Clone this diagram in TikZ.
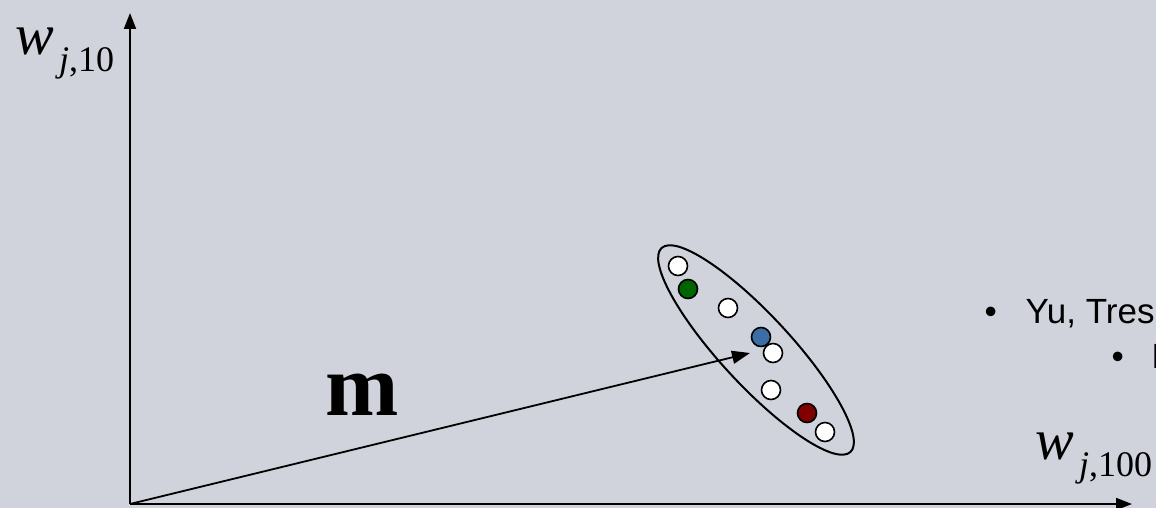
\documentclass[tikz,border=0pt]{standalone}
\usepackage{fontspec}
\setmainfont{Liberation Serif}
\newfontfamily\arialfont{Liberation Sans}
\usetikzlibrary{arrows.meta,shapes.geometric}

\definecolor{slidebg}{RGB}{208,211,219}
\definecolor{dotgreen}{RGB}{0,100,0}
\definecolor{dotblue}{RGB}{58,110,165}
\definecolor{dotred}{RGB}{128,0,0}

\tikzset{
  axisline/.style={line width=2pt,-{Triangle[length=16pt,width=12pt]}},
  vecline/.style={line width=1.8pt,-{Triangle[length=18pt,width=13pt]}},
  sample/.style={circle,draw,line width=1.6pt,minimum size=19pt,inner sep=0pt},
  citetext/.style={anchor=base west,font=\arialfont\fontsize{35}{35}\selectfont},
}

\begin{document}
\begin{tikzpicture}[x=1pt,y=-1pt]
  %
  % slide background
  \fill[slidebg] (0,0) rectangle (1156,508);
  \useasboundingbox (0,0) rectangle (1156,508);
  %
  % macro: axis label w_{j,#1}
  \newcommand{\weightlabel}[1]{%
    {\fontsize{58}{58}\selectfont\itshape w}\hspace{5pt}%
    \raisebox{-17pt}{\fontsize{36}{36}\selectfont\itshape j\upshape ,#1}}
  %
  % macro: sample dot name, x, y, fill
  \newcommand{\sampledot}[4]{
    \node[sample,fill=#4] (#1) at (#2,#3) {};
  }
  %
  % axes
  \coordinate (origin) at (130,504);
  \coordinate (ytop) at (130,13);
  \coordinate (xend) at (1132,504);
  \draw[axisline] (origin) -- (ytop);
  \draw[axisline] (origin) -- (xend);
  \node[anchor=base west] (ylabel) at (12,55) {\weightlabel{10}};
  \node[anchor=base west] (xlabel) at (1032,459) {\weightlabel{100}};
  %
  % mean vector
  \coordinate (mtip) at (750,353);
  \draw[vecline] (origin) -- (mtip);
  \node[anchor=base west,font=\fontsize{88}{88}\selectfont\bfseries] (mlabel) at (322,415) {m};
  %
  % cluster of samples
  \node[ellipse,draw,line width=2pt,minimum width=278pt,minimum height=70pt,
        inner sep=0pt,rotate=-47.2] (cluster) at (756,350) {};
  \sampledot{s1}{678}{266}{white}
  \sampledot{s2}{688}{289}{dotgreen}
  \sampledot{s3}{728}{308}{white}
  \sampledot{s4}{761}{337}{dotblue}
  \sampledot{s5}{773}{353}{white}
  \sampledot{s6}{771}{390}{white}
  \sampledot{s7}{807}{413}{dotred}
  \sampledot{s8}{825}{432}{white}
  %
  % reference bullets
  \node[citetext] (bulletA) at (981,323) {•};
  \node[citetext] (citeA) at (1022,323) {Yu, Tres};
  \node[citetext] (bulletB) at (1108,368) {•};
  \node[citetext] (citeB) at (1148,368) {F};
\end{tikzpicture}
\end{document}
